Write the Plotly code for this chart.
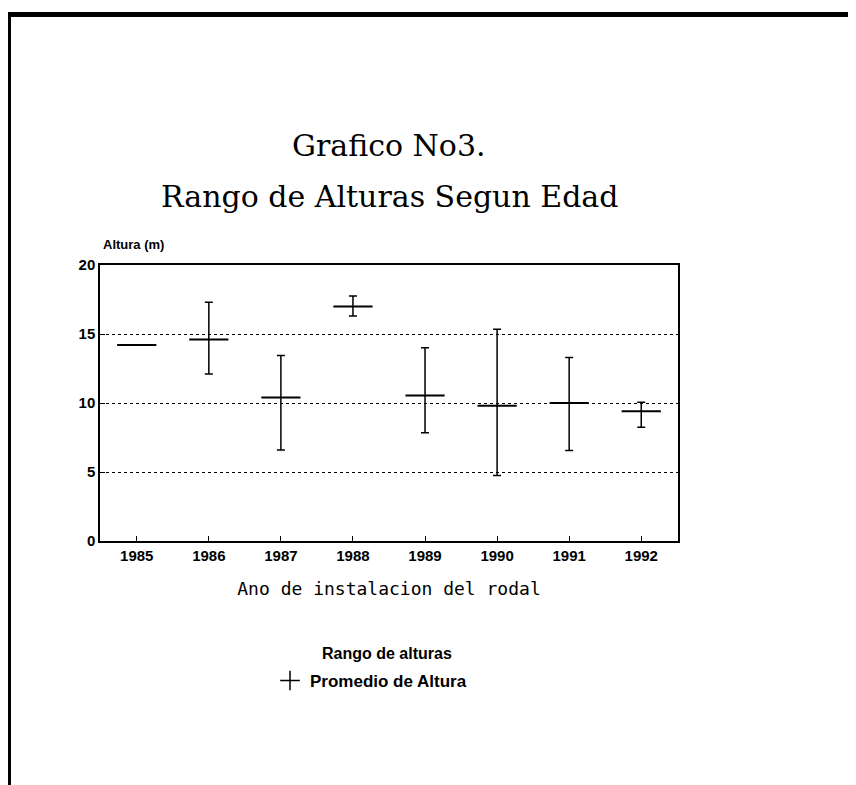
import plotly.graph_objects as go

# ---- data ----
years = [1985, 1986, 1987, 1988, 1989, 1990, 1991, 1992]
mean_height = [14.2, 14.6, 10.4, 17.0, 10.55, 9.8, 10.0, 9.4]
max_height = [14.2, 17.3, 13.45, 17.75, 14.0, 15.35, 13.3, 10.05]
min_height = [14.2, 12.1, 6.6, 16.3, 7.85, 4.75, 6.55, 8.25]
y_ticks = [0, 5, 10, 15, 20]

err_plus = [mx - m for mx, m in zip(max_height, mean_height)]
err_minus = [m - mn for m, mn in zip(mean_height, min_height)]

W, H = 856, 785
OFF = 8  # page body margin
# plot area in page pixels
PX0, PX1, PY0, PY1 = 100, 678, 265, 541
L, T = PX0 - OFF, PY0 - OFF
PW, PH = PX1 - PX0, PY1 - PY0
R, B = W - L - PW, H - T - PH


def px(x):  # page x -> paper
    return (x - PX0) / PW


def py(y):  # page y -> paper
    return (PY1 - y) / PH


fig = go.Figure()

fig.add_trace(go.Scatter(
    x=years, y=mean_height, mode="markers",
    marker=dict(symbol="line-ew", size=28, color="black",
                line=dict(color="black", width=2)),
    error_y=dict(type="data", symmetric=False, array=err_plus,
                 arrayminus=err_minus, color="black", thickness=1.5, width=4),
    showlegend=False, hoverinfo="x+y",
))

fig.add_trace(go.Scatter(
    x=[None], y=[None], mode="markers", name="Promedio de Altura",
    marker=dict(symbol="cross-thin", size=14, color="black",
                line=dict(color="black", width=1.5)),
))

tick_font = dict(family="Liberation Sans, Arial, sans-serif", size=15,
                 color="black", weight="bold")

fig.update_xaxes(
    range=[1984.49, 1992.51], tickvals=years, ticktext=[str(y) for y in years],
    ticks="inside", ticklen=5, tickwidth=1.2, tickcolor="black",
    showline=True, linecolor="black", linewidth=1.5, mirror=True,
    showgrid=False, zeroline=False, tickfont=tick_font,
    title=dict(text="Ano de instalacion del rodal",
               font=dict(family="DejaVu Sans Mono, monospace", size=18, color="black"),
               standoff=20),
)
fig.update_yaxes(
    range=[0, 20], tickvals=y_ticks,
    ticks="inside", ticklen=5, tickwidth=1.2, tickcolor="black",
    showline=True, linecolor="black", linewidth=1.5, mirror=True,
    showgrid=True, gridcolor="black", gridwidth=1, griddash="dot",
    zeroline=False, tickfont=tick_font,
)

title_font = dict(family="DejaVu Serif, serif", size=30, color="black")
bold_sans = "Liberation Sans, Arial, sans-serif"
annotations = [
    dict(text="Grafico No3.", x=px(389), y=py(145), xref="paper", yref="paper",
         showarrow=False, font=title_font, xanchor="center", yanchor="middle"),
    dict(text="Rango de Alturas Segun Edad", x=px(389), y=py(196), xref="paper", yref="paper",
         showarrow=False, font=title_font, xanchor="center", yanchor="middle"),
    dict(text="Altura (m)", x=px(101), y=py(245), xref="paper", yref="paper",
         showarrow=False, xanchor="left", yanchor="middle",
         font=dict(family=bold_sans, size=13, color="black", weight="bold")),
    dict(text="Rango de alturas", x=px(387), y=py(653), xref="paper", yref="paper",
         showarrow=False, xanchor="center", yanchor="middle",
         font=dict(family=bold_sans, size=16, color="black", weight="bold")),
]

shapes = [
    dict(type="line", xref="paper", yref="paper", x0=px(0), x1=px(870),
         y0=py(14.5), y1=py(14.5), line=dict(color="black", width=5)),
    dict(type="line", xref="paper", yref="paper", x0=px(9.5), x1=px(9.5),
         y0=py(12), y1=py(800), line=dict(color="black", width=3)),
]

fig.update_layout(
    width=W, height=H,
    margin=dict(l=L, r=R, t=T, b=B, autoexpand=False),
    paper_bgcolor="white", plot_bgcolor="white",
    annotations=annotations, shapes=shapes,
    showlegend=True,
    legend=dict(
        x=px(270), xanchor="left", y=py(681), yanchor="middle",
        bgcolor="rgba(0,0,0,0)",
        font=dict(family=bold_sans, size=17, color="black", weight="bold"),
    ),
)

fig.write_html("out.html")
